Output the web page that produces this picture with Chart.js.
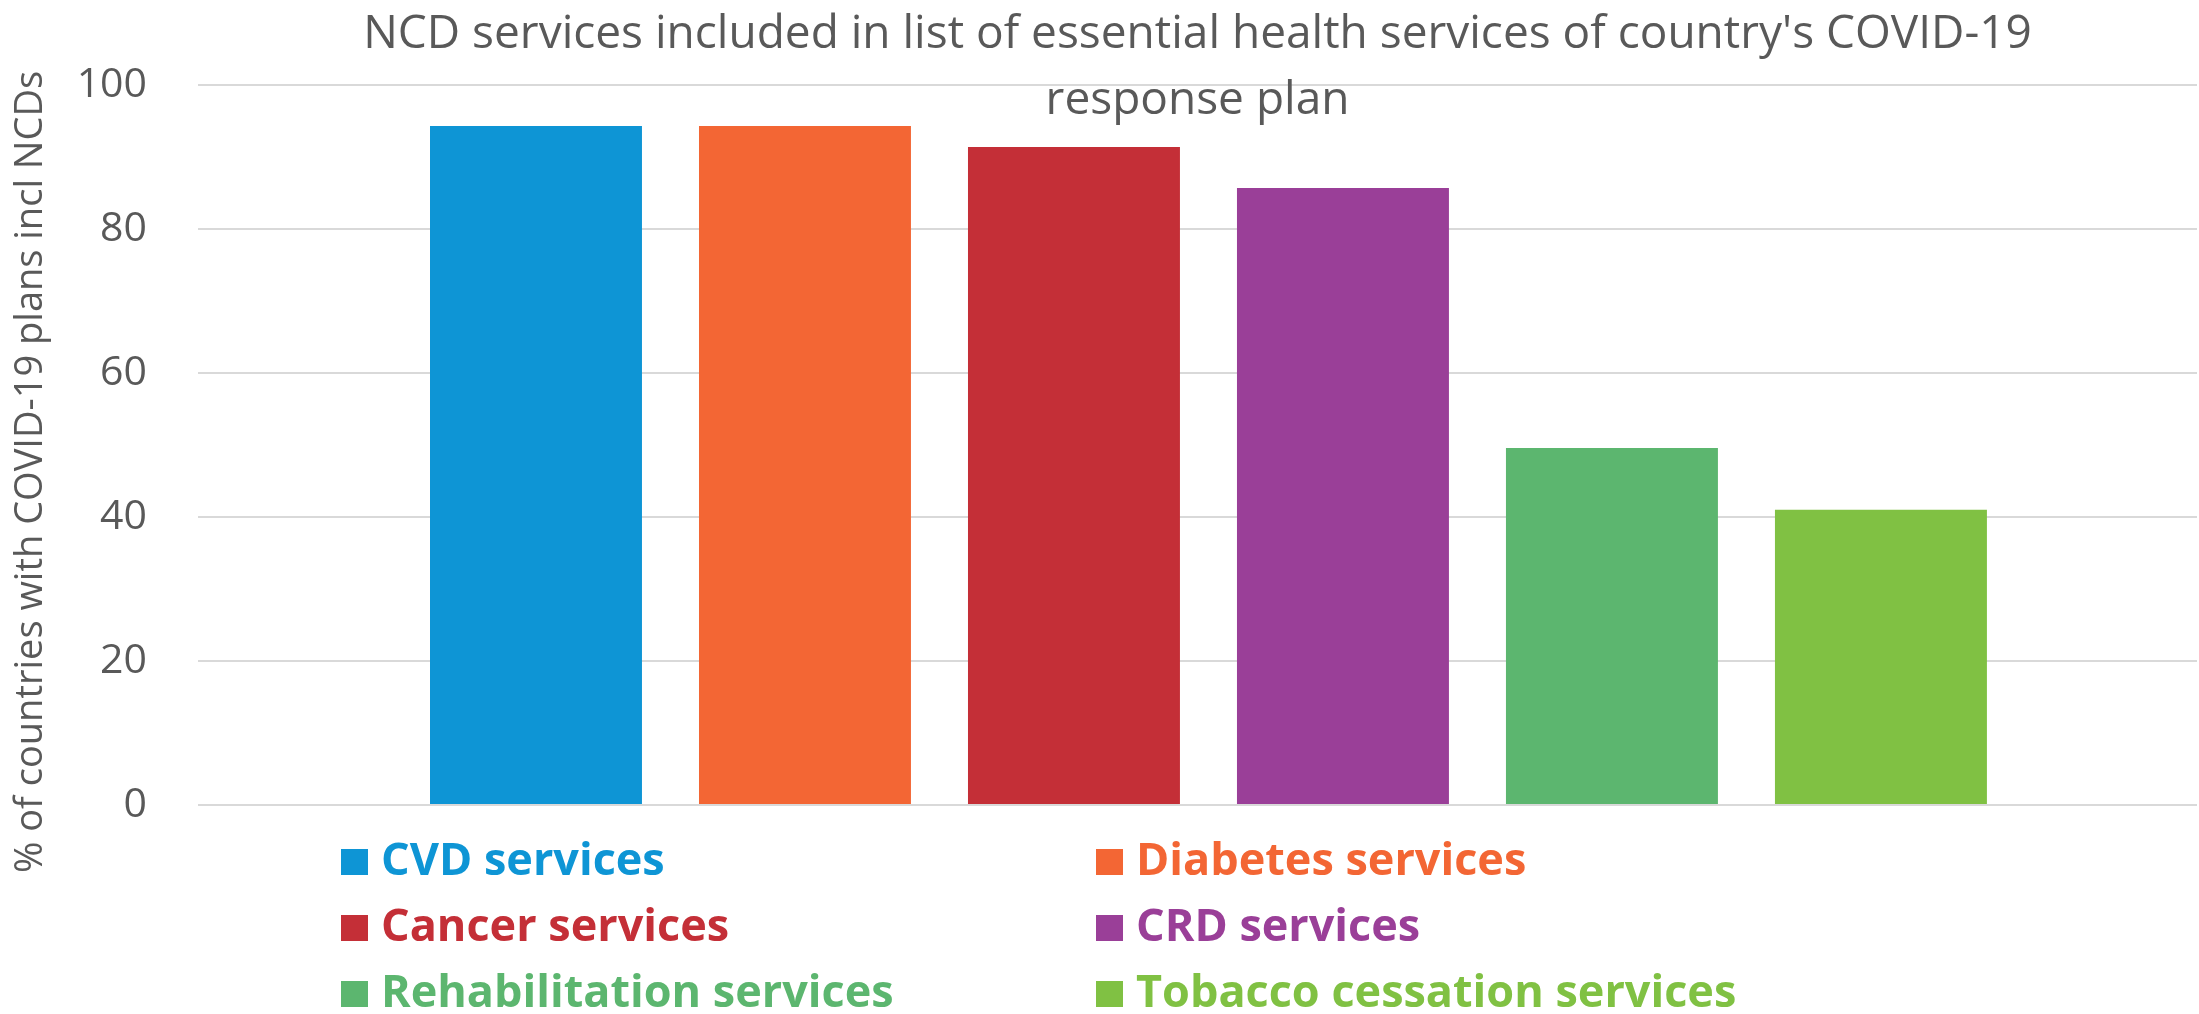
<!DOCTYPE html>
<html>
<head>
<meta charset="utf-8">
<script src="https://cdn.jsdelivr.net/npm/chart.js@4"></script>
<style>
  html, body { margin: 0; padding: 0; background: #fff; }
  canvas { display: block; }
</style>
</head>
<body>
<canvas id="ncdChart" width="2199" height="1014"></canvas>
<script>
const categories = ['CVD services', 'Diabetes services', 'Cancer services', 'CRD services',
  'Rehabilitation services', 'Tobacco cessation services'];
const values = [94.3, 94.3, 91.4, 85.7, 49.6, 41.0];
const colors = ['#0E95D5', '#F36634', '#C42F37', '#9A3F98', '#5CB66F', '#80C143'];
const yTicks = [0, 20, 40, 60, 80, 100];
const titleLines = ["NCD services included in list of essential health services of country's COVID-19", 'response plan'];
const yTitle = '% of countries with COVID-19 plans incl NCDs';

const TEXT_GREY = '#595959';

/* === TITLE, AXIS TITLE AND LEGEND === */
const decorPlugin = {
  id: 'decor',
  afterDraw(chart) {
    const ctx = chart.ctx;
    const area = chart.chartArea;
    ctx.save();

    // title, centred over the plot area
    ctx.fillStyle = TEXT_GREY;
    ctx.font = '46px "Open Sans"';
    ctx.textAlign = 'center';
    ctx.textBaseline = 'middle';
    const cx = (area.left + area.right) / 2;
    titleLines.forEach((line, i) => ctx.fillText(line, cx, 35 + i * 66));

    // y axis title
    ctx.save();
    ctx.translate(31, 472);
    ctx.rotate(-Math.PI / 2);
    ctx.font = '38px "Open Sans"';
    ctx.fillText(yTitle, 0, 0);
    ctx.restore();

    // legend, two columns
    ctx.font = 'bold 45px "Open Sans"';
    ctx.textAlign = 'left';
    ctx.textBaseline = 'alphabetic';
    const colX = [341, 1096];
    categories.forEach((label, i) => {
      const x = colX[i % 2];
      const base = 875 + Math.floor(i / 2) * 66;
      ctx.fillStyle = colors[i];
      ctx.fillRect(x, base - 26, 27, 26);
      ctx.fillText(label, x + 40, base);
    });
    ctx.restore();
  }
};

/* === CHART === */
new Chart(document.getElementById('ncdChart'), {
  type: 'bar',
  data: {
    labels: categories,
    datasets: [{
      label: 'NCD services',
      data: values.map((v, i) => ({ x: i, y: v })),
      backgroundColor: colors,
      borderWidth: 0,
      categoryPercentage: 1,
      barPercentage: 0.788
    }]
  },
  options: {
    responsive: false,
    animation: false,
    layout: { padding: { top: 85, bottom: 209, left: 0, right: 2 } },
    scales: {
      x: {
        type: 'linear',
        display: false,
        offset: false,
        min: -1.2565,
        max: 6.175
      },
      y: {
        min: 0,
        max: 100,
        afterFit(scale) { scale.width = 198; },
        afterBuildTicks(scale) { scale.ticks = yTicks.map(v => ({ value: v })); },
        grid: { color: '#D9D9D9', lineWidth: 2, drawTicks: false },
        border: { display: false },
        ticks: {
          padding: 51,
          color: TEXT_GREY,
          font: { family: 'Open Sans', size: 41 }
        }
      }
    },
    plugins: {
      legend: { display: false },
      title: { display: false },
      tooltip: { enabled: false }
    }
  },
  plugins: [decorPlugin]
});
</script>
</body>
</html>
